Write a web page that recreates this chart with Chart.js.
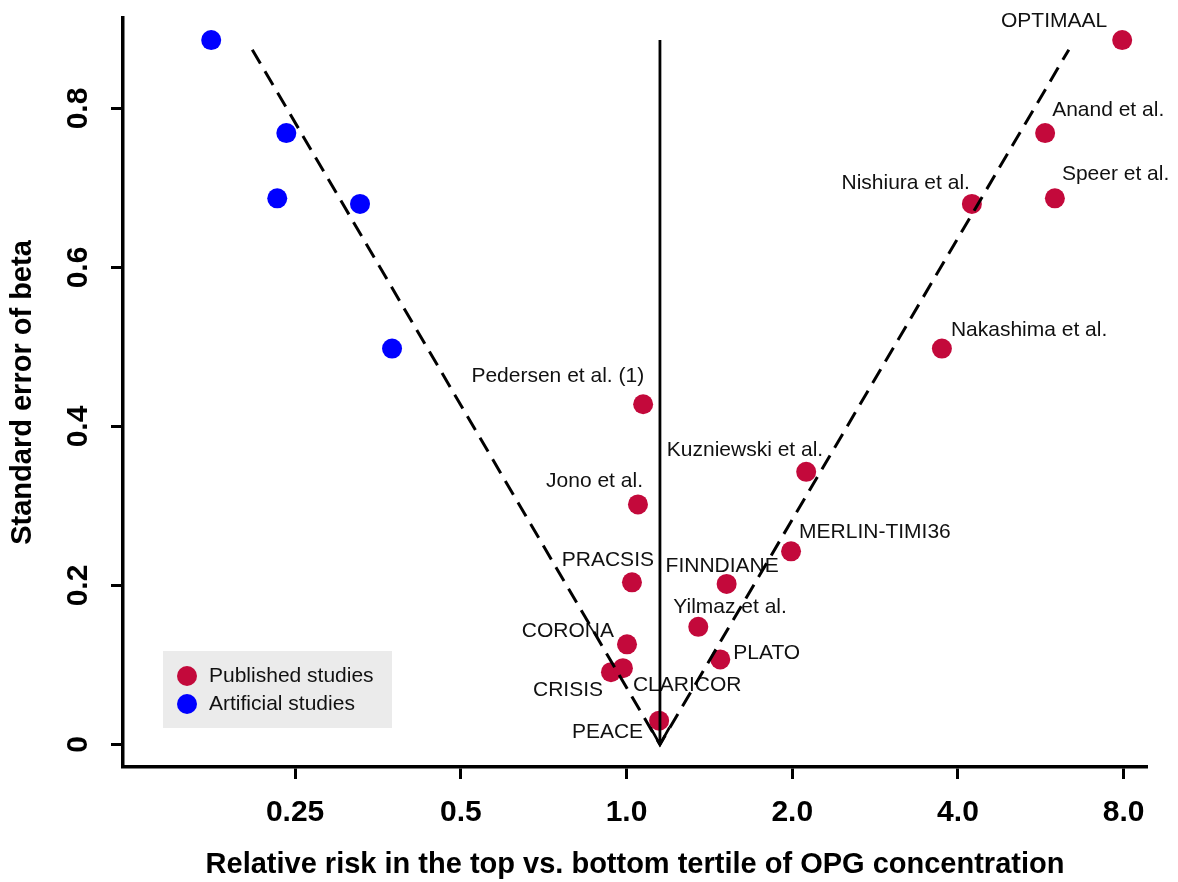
<!DOCTYPE html>
<html>
<head>
<meta charset="utf-8">
<title>Funnel plot - OPG studies</title>
<script src="https://cdn.jsdelivr.net/npm/chart.js@4.4.1/dist/chart.umd.min.js"></script>
<style>
  html, body { margin: 0; padding: 0; background: #fff; }
  #wrap { width: 1178px; height: 882px; }
</style>
</head>
<body>
<div id="wrap"><canvas id="funnel" width="1178" height="882"></canvas></div>
<script>
/* ------------------------ données ------------------------ */

const studyNames = ["OPTIMAAL", "Anand et al.", "Speer et al.", "Nishiura et al.", "Nakashima et al.",
  "Pedersen et al. (1)", "Kuzniewski et al.", "Jono et al.", "MERLIN-TIMI36", "PRACSIS",
  "FINNDIANE", "Yilmaz et al.", "CORONA", "PLATO", "CRISIS", "CLARICOR", "PEACE"];
const studyRR = [7.95, 5.76, 6.00, 4.24, 3.74, 1.072, 2.12, 1.049, 1.99, 1.023,
  1.52, 1.35, 1.002, 1.48, 0.937, 0.985, 1.146];
const studySE = [0.886, 0.769, 0.687, 0.680, 0.498, 0.428, 0.343, 0.302, 0.243, 0.204,
  0.202, 0.148, 0.126, 0.107, 0.091, 0.096, 0.030];

const artificialRR = [0.176, 0.241, 0.232, 0.328, 0.375];
const artificialSE = [0.886, 0.769, 0.687, 0.680, 0.498];

// pseudo 95% limits and pooled estimate
const funnelRR = [0.209, 1.15, 6.36];
const funnelSE = [0.874, 0, 0.874];
const pooledRR = [1.15, 1.15];
const pooledSE = [0, 0.886];

const xTicks = [0.25, 0.5, 1, 2, 4, 8];
const xTickLabels = ["0.25", "0.5", "1.0", "2.0", "4.0", "8.0"];
const yTicks = [0, 0.2, 0.4, 0.6, 0.8];
const yTickLabels = ["0", "0.2", "0.4", "0.6", "0.8"];

const seriesNames = ["Published studies", "Artificial studies"];

/* ------------------------ mise en page des étiquettes ------------------------ */

// offset of each study label from its dot : [dx, dy, align]
const labelPlace = {
  "OPTIMAAL": [-15, -18.5, "right"],
  "Anand et al.": [7, -23, "left"],
  "Speer et al.": [7, -24, "left"],
  "Nishiura et al.": [-2, -21, "right"],
  "Nakashima et al.": [9, -18, "left"],
  "Pedersen et al. (1)": [1, -28, "right"],
  "Kuzniewski et al.": [17, -22, "right"],
  "Jono et al.": [5, -23, "right"],
  "MERLIN-TIMI36": [8, -19, "left"],
  "PRACSIS": [22, -22, "right"],
  "FINNDIANE": [-4.5, -18, "center"],
  "Yilmaz et al.": [-25, -20, "left"],
  "CORONA": [-13, -13, "right"],
  "PLATO": [13, -6, "left"],
  "CRISIS": [-8, 18, "right"],
  "CLARICOR": [10, 17, "left"],
  "PEACE": [-16, 12, "right"]
};

const red = "#C3093B";
const blue = "#0000FF";
const fontFam = "'Liberation Sans', Arial, Helvetica, sans-serif";

Chart.defaults.font.family = fontFam;
Chart.defaults.color = "#000";

/* ------------------------ plugins ------------------------ */

const studyLabels = {
  id: "studyLabels",
  beforeDatasetsDraw(chart) {
    const ctx = chart.ctx;
    const xs = chart.scales.x, ys = chart.scales.y;
    ctx.save();
    ctx.font = "21px " + fontFam;
    ctx.fillStyle = "#111";
    ctx.textBaseline = "middle";
    for (let i = 0; i < studyNames.length; i++) {
      const p = labelPlace[studyNames[i]];
      ctx.textAlign = p[2];
      ctx.fillText(studyNames[i], xs.getPixelForValue(studyRR[i]) + p[0], ys.getPixelForValue(studySE[i]) + p[1]);
    }
    ctx.restore();
  }
};

const arrowHead = {
  id: "arrowHead",
  afterDatasetsDraw(chart) {
    const ctx = chart.ctx;
    const tx = chart.scales.x.getPixelForValue(pooledRR[0]);
    const ty = chart.scales.y.getPixelForValue(pooledSE[0]);
    ctx.save();
    ctx.strokeStyle = "#000";
    ctx.lineWidth = 2.6;
    ctx.beginPath();
    ctx.moveTo(tx - 9.5, ty - 17);
    ctx.lineTo(tx, ty);
    ctx.lineTo(tx + 9.5, ty - 17);
    ctx.stroke();
    ctx.restore();
  }
};

const boxLegend = {
  id: "boxLegend",
  afterDraw(chart) {
    const ctx = chart.ctx;
    ctx.save();
    ctx.fillStyle = "#EBEBEB";
    ctx.fillRect(163, 651, 229, 77);
    ctx.font = "21px " + fontFam;
    ctx.textBaseline = "middle";
    ctx.textAlign = "left";
    for (let i = 0; i < 2; i++) {
      const ds = chart.data.datasets[i];
      const cy = 676 + i * 28;
      ctx.fillStyle = ds.backgroundColor;
      ctx.beginPath();
      ctx.arc(187, cy, 10, 0, Math.PI * 2);
      ctx.fill();
      ctx.fillStyle = "#111";
      ctx.fillText(ds.label, 209, cy);
    }
    ctx.restore();
  }
};

/* ------------------------ graphique ------------------------ */

const ctx1 = document.getElementById("funnel").getContext("2d");

const funnelChart = new Chart(ctx1, {
  type: "scatter",
  data: {
    datasets: [
      {
        label: seriesNames[0],
        data: studyRR.map((v, i) => ({ x: v, y: studySE[i] })),
        backgroundColor: red,
        pointRadius: 10,
        pointBorderWidth: 0,
        clip: false,
        order: 2
      },
      {
        label: seriesNames[1],
        data: artificialRR.map((v, i) => ({ x: v, y: artificialSE[i] })),
        backgroundColor: blue,
        pointRadius: 10,
        pointBorderWidth: 0,
        clip: false,
        order: 2
      },
      {
        label: "funnel",
        type: "line",
        data: funnelRR.map((v, i) => ({ x: v, y: funnelSE[i] })),
        borderColor: "#000",
        borderWidth: 3,
        borderDash: [16, 9],
        pointRadius: 0,
        fill: false,
        tension: 0,
        order: 1
      },
      {
        label: "pooled",
        type: "line",
        data: pooledRR.map((v, i) => ({ x: v, y: pooledSE[i] })),
        borderColor: "#000",
        borderWidth: 2.8,
        pointRadius: 0,
        fill: false,
        order: 1
      }
    ]
  },
  options: {
    responsive: false,
    animation: false,
    devicePixelRatio: 1,
    layout: { padding: { top: 18, right: 31, bottom: 0, left: 0 } },
    plugins: {
      legend: { display: false },
      tooltip: { enabled: false }
    },
    scales: {
      x: {
        type: "logarithmic",
        position: "bottom",
        min: 0.1217,
        max: 8.82,
        afterBuildTicks: s => { s.ticks = xTicks.map(v => ({ value: v })); },
        afterFit: s => { s.height = 115; s.paddingLeft = 0; s.paddingRight = 0; },
        grid: { display: true, drawOnChartArea: false, drawTicks: true, tickLength: 12, tickWidth: 3, tickColor: "#000" },
        border: { display: true, color: "#000", width: 3.5 },
        ticks: {
          autoSkip: false, minRotation: 0, maxRotation: 0, padding: 16, color: "#000",
          font: { size: 30, weight: "bold" },
          callback: (v, i) => xTickLabels[i]
        },
        title: {
          display: true,
          text: "Relative risk in the top vs. bottom tertile of OPG concentration",
          color: "#000",
          font: { size: 29, weight: "bold" },
          padding: { top: 0, bottom: 0 }
        }
      },
      y: {
        min: -0.0283,
        max: 0.9138,
        afterBuildTicks: s => { s.ticks = yTicks.map(v => ({ value: v })); },
        afterFit: s => { s.width = 123; s.paddingTop = 0; s.paddingBottom = 0; },
        grid: { display: true, drawOnChartArea: false, drawTicks: true, tickLength: 12, tickWidth: 3, tickColor: "#000" },
        border: { display: true, color: "#000", width: 3.5 },
        ticks: {
          autoSkip: false, minRotation: 90, maxRotation: 90, crossAlign: "center", padding: 11, color: "#000",
          font: { size: 30, weight: "bold" },
          callback: (v, i) => yTickLabels[i]
        },
        title: {
          display: true,
          text: "Standard error of beta",
          color: "#000",
          font: { size: 29, weight: "bold" },
          padding: { top: 6, bottom: 0 }
        }
      }
    }
  },
  plugins: [studyLabels, arrowHead, boxLegend]
});
</script>
</body>
</html>
